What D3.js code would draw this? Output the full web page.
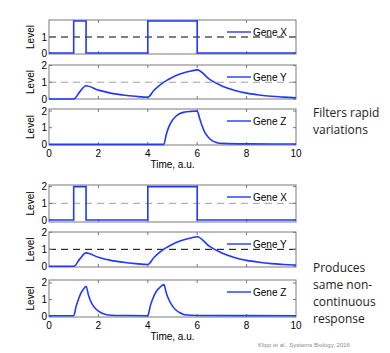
<!DOCTYPE html>
<html>
<head>
<meta charset="utf-8">
<script src="https://cdn.jsdelivr.net/npm/d3@7"></script>
<style>
  body { margin: 0; background: #fff; }
  svg { display: block; }
</style>
</head>
<body>
<svg id="chart" width="390" height="353"></svg>
<script>
// data
var geneXTime = [0, 1, 1.5, 4, 6, 10];
var geneXLevel = [0, 2, 0, 2, 0, 0];

var geneYTime = [0, 1, 1.25, 1.5, 2, 2.5, 3, 3.5, 4, 4.25, 4.5, 4.75, 5, 5.25, 5.5, 5.75, 6, 6.5, 7, 7.5, 8, 8.5, 9, 9.5, 10];
var geneYLevel = [0, 0, 0.44, 0.79, 0.53, 0.35, 0.24, 0.16, 0.105, 0.52, 0.85, 1.1, 1.3, 1.46, 1.58, 1.67, 1.74, 1.17, 0.78, 0.52, 0.35, 0.24, 0.16, 0.11, 0.07];

// gene Z, AND-gate circuit (top)
var geneZaTime = [0, 4.65, 4.75, 4.85, 5, 5.15, 5.3, 5.5, 5.75, 6, 6.1, 6.2, 6.3, 6.45, 6.6, 6.8, 7, 8, 10];
var geneZaLevel = [0, 0, 0.6, 1.05, 1.45, 1.7, 1.85, 1.94, 1.98, 2.0, 1.55, 1.1, 0.75, 0.42, 0.22, 0.1, 0.06, 0.03, 0.02];

// gene Z, pulse circuit (bottom)
var geneZbTime = [0, 1, 1.1, 1.2, 1.3, 1.4, 1.5, 1.6, 1.7, 1.85, 2, 2.2, 2.5, 3, 4, 4.1, 4.2, 4.35, 4.5, 4.65, 4.75, 4.85, 5, 5.15, 5.3, 5.5, 6, 10];
var geneZbLevel = [0.02, 0.02, 0.6, 1.05, 1.4, 1.63, 1.8, 1.25, 0.85, 0.5, 0.3, 0.14, 0.05, 0.03, 0.02, 0.6, 1.05, 1.5, 1.75, 1.9, 1.4, 1.0, 0.6, 0.35, 0.2, 0.08, 0.03, 0.02];

var timeTicks = [0, 2, 4, 6, 8, 10];
var threshold = 1;

var svg = d3.select("#chart");
var blue = "#2038ff";
var font = "'Liberation Sans', Arial, sans-serif";

var x = d3.scaleLinear().domain([0, 10]).range([49, 296]);

function toPoints(ts, vs) {
  return ts.map(function(t, i) { return { t: t, v: vs[i] }; });
}

var groups = [
  {
    panels: [
      { top: 20, bottom: 54, dom: [-0.06, 2.06], ticks: [0, 1], pts: toPoints(geneXTime, geneXLevel), step: true, name: "Gene X", dash: "#000" },
      { top: 65, bottom: 99, dom: [0, 2.03], ticks: [0, 1, 2], pts: toPoints(geneYTime, geneYLevel), name: "Gene Y", dash: "#a0a0a0" },
      { top: 109, bottom: 145, dom: [-0.04, 2.12], ticks: [0, 1, 2], pts: toPoints(geneZaTime, geneZaLevel), name: "Gene Z" }
    ]
  },
  {
    panels: [
      { top: 185, bottom: 222, dom: [-0.12, 2.1], ticks: [0, 1, 2], pts: toPoints(geneXTime, geneXLevel), step: true, name: "Gene X", dash: "#a0a0a0" },
      { top: 232, bottom: 267, dom: [-0.04, 2.02], ticks: [0, 1, 2], pts: toPoints(geneYTime, geneYLevel), name: "Gene Y", dash: "#000" },
      { top: 280, bottom: 317, dom: [-0.06, 2.18], ticks: [0, 1, 2], pts: toPoints(geneZbTime, geneZbLevel), name: "Gene Z" }
    ]
  }
];

groups.forEach(function(g) {
  g.panels.forEach(function(p, pi) {
    var y = d3.scaleLinear().domain(p.dom).range([p.bottom, p.top]);
    var pg = svg.append("g");

    // threshold dashed line
    if (p.dash) {
      pg.append("line")
        .attr("x1", x(0)).attr("x2", x(10))
        .attr("y1", y(threshold)).attr("y2", y(threshold))
        .attr("stroke", p.dash)
        .attr("stroke-width", 1)
        .attr("stroke-dasharray", "7,5");
    }

    // box
    pg.append("rect")
      .attr("x", x(0)).attr("y", p.top)
      .attr("width", x(10) - x(0)).attr("height", p.bottom - p.top)
      .attr("fill", "none")
      .attr("stroke", "#7a7a7a")
      .attr("stroke-width", 1);

    // inward ticks on all four sides
    timeTicks.slice(1, -1).forEach(function(t) {
      pg.append("line").attr("x1", x(t)).attr("x2", x(t))
        .attr("y1", p.bottom).attr("y2", p.bottom - 3).attr("stroke", "#7a7a7a");
      pg.append("line").attr("x1", x(t)).attr("x2", x(t))
        .attr("y1", p.top).attr("y2", p.top + 3).attr("stroke", "#7a7a7a");
    });
    p.ticks.forEach(function(v) {
      pg.append("line").attr("x1", x(0)).attr("x2", x(0) + 3)
        .attr("y1", y(v)).attr("y2", y(v)).attr("stroke", "#7a7a7a");
      pg.append("line").attr("x1", x(10)).attr("x2", x(10) - 3)
        .attr("y1", y(v)).attr("y2", y(v)).attr("stroke", "#7a7a7a");
      pg.append("text")
        .attr("x", x(0) - 2).attr("y", y(v) + 3.5)
        .attr("text-anchor", "end")
        .attr("font-family", font).attr("font-size", 10)
        .text(v);
    });

    // y label
    pg.append("text")
      .attr("transform", "translate(34," + ((p.top + p.bottom) / 2) + ") rotate(-90)")
      .attr("text-anchor", "middle")
      .attr("font-family", font).attr("font-size", 10)
      .text("Level");

    // data line
    var line = d3.line()
      .x(function(d) { return x(d.t); })
      .y(function(d) { return y(d.v); })
      .curve(p.step ? d3.curveStepAfter : d3.curveMonotoneX);
    pg.append("path")
      .datum(p.pts)
      .attr("d", line)
      .attr("fill", "none")
      .attr("stroke", blue)
      .attr("stroke-width", 1.6);

    // legend
    var ly = p.top + 12;
    pg.append("line")
      .attr("x1", 227).attr("x2", 251)
      .attr("y1", ly).attr("y2", ly)
      .attr("stroke", blue).attr("stroke-width", 1.4);
    pg.append("text")
      .attr("x", 253).attr("y", ly + 3.5)
      .attr("font-family", font).attr("font-size", 10)
      .text(p.name);

    // x axis labels on bottom panel
    if (pi === g.panels.length - 1) {
      timeTicks.forEach(function(t) {
        pg.append("text")
          .attr("x", x(t)).attr("y", p.bottom + 12)
          .attr("text-anchor", "middle")
          .attr("font-family", font).attr("font-size", 10)
          .text(t);
      });
      pg.append("text")
        .attr("x", (x(0) + x(10)) / 2).attr("y", p.bottom + 23)
        .attr("text-anchor", "middle")
        .attr("font-family", font).attr("font-size", 10)
        .text("Time, a.u.");
    }
  });
});

// side notes
var notes = [
  { lines: ["Filters rapid", "variations"], y: 117 },
  { lines: ["Produces", "same non-", "continuous", "response"], y: 272 }
];
notes.forEach(function(n) {
  n.lines.forEach(function(s, i) {
    svg.append("text")
      .attr("x", 313).attr("y", n.y + i * 17)
      .attr("font-family", "'Open Sans', sans-serif").attr("font-size", 12)
      .attr("fill", "#222")
      .text(s);
  });
});

svg.append("text")
  .attr("x", 258).attr("y", 347)
  .attr("font-family", font).attr("font-size", 6)
  .attr("fill", "#8a8a9a")
  .text("Klipp et al., Systems Biology, 2016");
</script>
</body>
</html>
